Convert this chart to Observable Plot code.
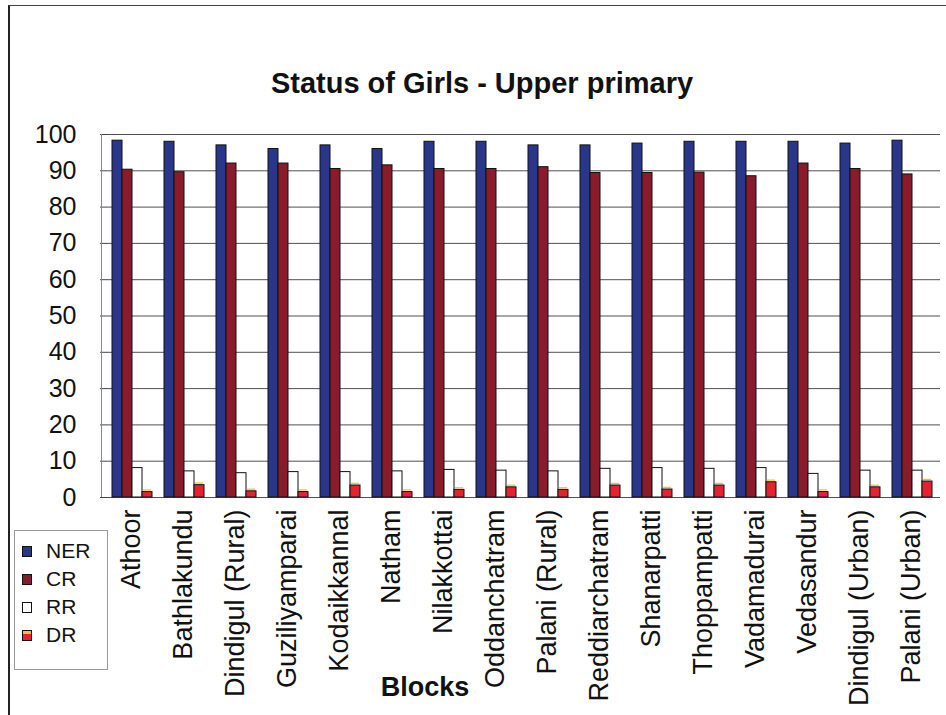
<!DOCTYPE html>
<html><head><meta charset="utf-8">
<script src="https://cdn.jsdelivr.net/npm/d3@7"></script>
<script src="https://cdn.jsdelivr.net/npm/@observablehq/plot@0.6"></script>
<style>
body{margin:0;background:#fff;font-family:"Liberation Sans",Arial,sans-serif;}
#wrap{position:relative;width:946px;height:715px;overflow:hidden;}
#frame{position:absolute;left:8px;top:5px;width:950px;height:720px;border-left:2px solid #222;border-top:1px solid #444;box-sizing:border-box;}
#title{position:absolute;left:482px;top:67px;transform:translateX(-50%);white-space:nowrap;font-weight:bold;font-size:29px;color:#111;}
#chart{position:absolute;left:0;top:120px;}
#yline{position:absolute;left:101px;top:134px;width:0;height:363px;border-left:1px solid #888;}
#legend{position:absolute;left:14px;top:530px;width:94px;height:140px;border:1px solid #999;background:#fff;box-sizing:border-box;padding-top:6px;}
.li{display:flex;align-items:center;height:28px;font-size:21px;color:#111;padding-left:7px;}
.sw{width:10px;height:11px;margin-right:14px;border:1px solid #111;box-sizing:border-box;}
#xlab{position:absolute;left:425px;top:672px;transform:translateX(-50%);font-weight:bold;font-size:27px;color:#111;}
</style></head>
<body>
<div id="wrap">
<div id="frame"></div>
<div id="title">Status of Girls - Upper primary</div>
<div id="chart"></div>
<div id="yline"></div>
<div id="legend"></div>
<div id="xlab">Blocks</div>
</div>
<script>
const blocks = ["Athoor","Bathlakundu","Dindigul (Rural)","Guziliyamparai","Kodaikkannal","Natham","Nilakkottai","Oddanchatram","Palani (Rural)","Reddiarchatram","Shanarpatti","Thoppampatti","Vadamadurai","Vedasandur","Dindigul (Urban)","Palani (Urban)"];
const series = ["NER","CR","RR","DR"];
const ner = [98.3,98,97,96,97,96,98,98,97,97,97.5,98,98,98,97.5,98.3];
const cr  = [90.3,89.6,92,92,90.5,91.5,90.5,90.5,91,89.4,89.4,89.5,88.5,92,90.5,89];
const rr  = [8.1,7.2,6.7,7,7,7.2,7.6,7.4,7.2,7.9,8.1,7.9,8.1,6.5,7.4,7.4];
const dr  = [1.5,3.4,1.7,1.5,3.3,1.5,2.1,2.8,2.1,3.3,2.2,3.3,4.2,1.5,2.8,4.4];
const yTicks = [0,10,20,30,40,50,60,70,80,90,100];
const fills = {NER:"#2a3788", CR:"#8a1b2b", RR:"#ffffff", DR:"#e42230"};

const vals = {NER:ner, CR:cr, RR:rr, DR:dr};
const data = [];
blocks.forEach((b,i)=>series.forEach(s=>data.push({block:b, series:s, value:vals[s][i]})));
const drData = data.filter(d=>d.series==="DR");

const chart = Plot.plot({
  width: 946,
  height: 595,
  marginLeft: 101,
  marginRight: 0,
  marginTop: 14,
  marginBottom: 218,
  style: {fontFamily: "'Liberation Sans', Arial, sans-serif", color: "#111", background: "transparent"},
  fx: {domain: blocks, padding: 0, label: null},
  x: {domain: series, paddingInner: 0.02, paddingOuter: 0.5, align: 0.3, axis: null},
  y: {domain: [0,100], label: null},
  marks: [
    Plot.gridY(yTicks, {stroke: "#333", strokeOpacity: 0.85, strokeWidth: 1}),
    Plot.barY(data, {fx: "block", x: "series", y: "value", fill: d => fills[d.series], stroke: "#111", strokeWidth: 1}),
    Plot.barY(drData, {fx: "block", x: "series", y1: "value", y2: d => d.value + 0.9, fill: "#f2c42a", inset: 1}),
    Plot.axisY(yTicks, {tickSize: 8, tickPadding: 24, fontSize: 25, stroke: "#444"}),
    Plot.axisFx({anchor: "bottom", tickRotate: -90, tickSize: 0, tickPadding: 12, dx: -3, fontSize: 27, label: null})
  ]
});
document.getElementById("chart").appendChild(chart);

const lg = document.getElementById("legend");
series.forEach(s=>{
  const row = document.createElement("div"); row.className="li";
  const sw = document.createElement("span"); sw.className="sw"; sw.style.background = fills[s];
  if (s==="DR") sw.style.background = "linear-gradient(#f2c42a 0 35%, #e42230 35%)";
  const t = document.createElement("span"); t.textContent = s;
  row.appendChild(sw); row.appendChild(t); lg.appendChild(row);
});
</script>
</body></html>
